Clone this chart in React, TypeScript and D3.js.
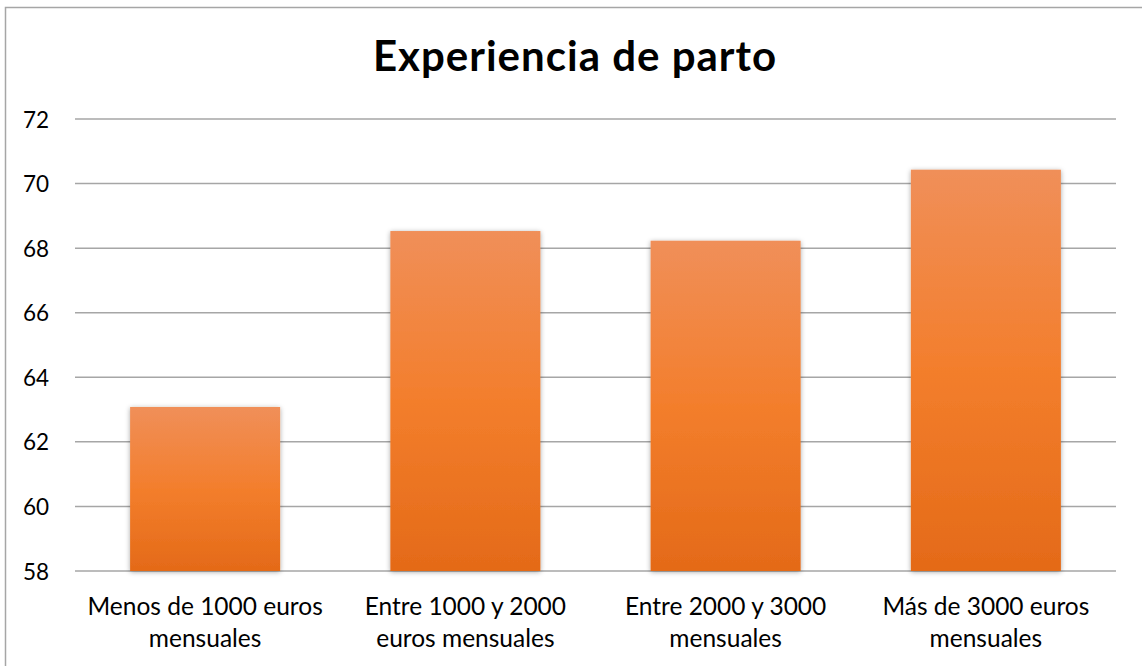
import React, { useRef, useEffect } from 'react';
import { select, scaleLinear, scaleBand, axisLeft, range } from 'd3';

// data
const categories: string[][] = [
  ['Menos de 1000 euros', 'mensuales'],
  ['Entre 1000 y 2000', 'euros mensuales'],
  ['Entre 2000 y 3000', 'mensuales'],
  ['Más de 3000 euros', 'mensuales'],
];
const values: number[] = [63.08, 68.53, 68.23, 70.43];
const yTicks: number[] = [58, 60, 62, 64, 66, 68, 70, 72];

const W = 1142;
const H = 666;
const FONT = 'Lato, "Open Sans", sans-serif';

function App() {
  const svgRef = useRef<SVGSVGElement>(null);

  useEffect(() => {
    const svg = select(svgRef.current);
    svg.selectAll('*').remove();

    const defs = svg.append('defs');
    const grad = defs
      .append('linearGradient')
      .attr('id', 'barGrad')
      .attr('x1', 0).attr('y1', 0).attr('x2', 0).attr('y2', 1);
    grad.append('stop').attr('offset', '0%').attr('stop-color', '#f08f59');
    grad.append('stop').attr('offset', '50%').attr('stop-color', '#f37e2c');
    grad.append('stop').attr('offset', '100%').attr('stop-color', '#e46a18');

    const shadow = defs.append('filter').attr('id', 'shadow')
      .attr('x', '-10%').attr('y', '-10%').attr('width', '120%').attr('height', '120%');
    shadow.append('feDropShadow')
      .attr('dx', 0).attr('dy', 1).attr('stdDeviation', 2.5)
      .attr('flood-color', '#000').attr('flood-opacity', 0.35);

    // outer border
    svg.append('rect')
      .attr('x', 5.5).attr('y', 7.5)
      .attr('width', W).attr('height', H)
      .attr('fill', '#fff')
      .attr('stroke', '#a6a6a6').attr('stroke-width', 1.5);

    const left = 75, right = 1116, top = 119, bottom = 571;

    const x = scaleBand<number>()
      .domain(range(values.length))
      .range([left, right])
      .paddingInner(0.4235)
      .paddingOuter(0.21175);

    const y = scaleLinear().domain([58, 72]).range([bottom, top]);

    // gridlines
    svg.append('g')
      .selectAll('line')
      .data(yTicks)
      .join('line')
      .attr('x1', left).attr('x2', right)
      .attr('y1', d => y(d)).attr('y2', d => y(d))
      .attr('stroke', '#a6a6a6').attr('stroke-width', 1.5);

    // y axis labels
    const yAxis = axisLeft(y).tickValues(yTicks).tickSize(0).tickPadding(26);
    const gy = svg.append('g').attr('transform', `translate(${left},0)`).call(yAxis);
    gy.select('.domain').remove();
    gy.selectAll('text')
      .attr('font-family', FONT)
      .attr('font-size', 22.5)
      .attr('dy', '0.36em')
      .attr('fill', '#000');

    // bars
    svg.append('g')
      .selectAll('rect')
      .data(values)
      .join('rect')
      .attr('x', (d, i) => x(i) as number)
      .attr('y', d => y(d))
      .attr('width', x.bandwidth())
      .attr('height', d => bottom - y(d))
      .attr('fill', 'url(#barGrad)')
      .attr('filter', 'url(#shadow)');

    // category labels
    const cat = svg.append('g')
      .selectAll('text')
      .data(categories)
      .join('text')
      .attr('x', (d, i) => (x(i) as number) + x.bandwidth() / 2)
      .attr('y', 615)
      .attr('text-anchor', 'middle')
      .attr('font-family', FONT)
      .attr('font-size', 24.5)
      .attr('fill', '#000');
    cat.selectAll('tspan')
      .data(d => d)
      .join('tspan')
      .attr('x', function () {
        return (this as any).parentNode.getAttribute('x');
      })
      .attr('dy', (d, i) => (i === 0 ? 0 : 32))
      .text(d => d);

    // title
    svg.append('text')
      .attr('x', 575)
      .attr('y', 71)
      .attr('text-anchor', 'middle')
      .attr('font-family', FONT)
      .attr('font-weight', 'bold')
      .attr('font-size', 42)
      .attr('letter-spacing', 1)
      .attr('fill', '#000')
      .text('Experiencia de parto');
  }, []);

  return (
    <svg
      ref={svgRef}
      width={W}
      height={H}
      style={{ position: 'absolute', left: 0, top: 0 }}
    />
  );
}

export default App;
